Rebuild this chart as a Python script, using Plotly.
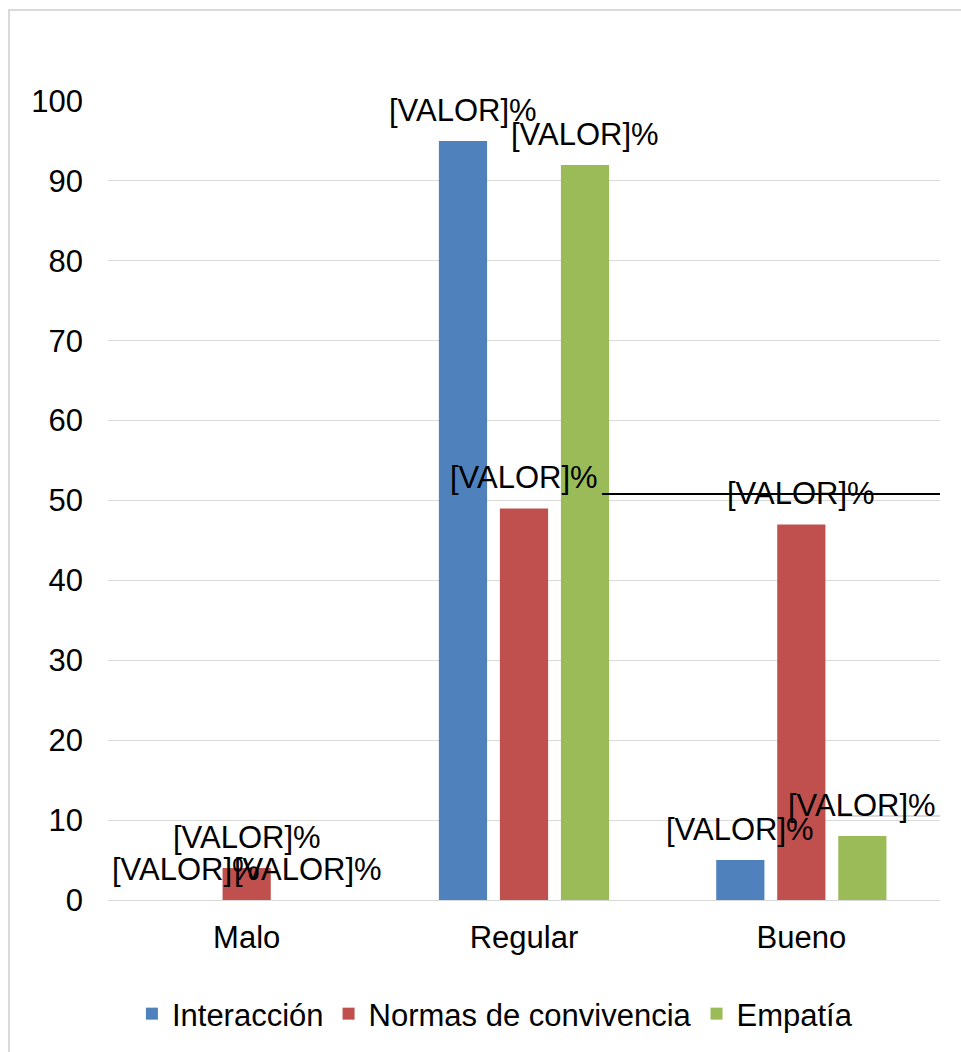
import plotly.graph_objects as go

categories = ["Malo", "Regular", "Bueno"]
series_names = ["Interacción", "Normas de convivencia", "Empatía"]
interaccion = [0, 95, 5]
normas = [4, 49, 47]
empatia = [0, 92, 8]
label_text = "[VALOR]%"
y_ticks = [0, 10, 20, 30, 40, 50, 60, 70, 80, 90, 100]

colors = ["#4F81BD", "#C0504D", "#9BBB59"]
values = [interaccion, normas, empatia]

W, H = 961, 1052
M = dict(l=108, r=21, t=101, b=152)
BARGAP = 0.34
GROUPGAP = 0.21
FONT = "Liberation Sans, Arial, sans-serif"
FS = 31

fig = go.Figure()
for name, vals, col in zip(series_names, values, colors):
    fig.add_trace(go.Bar(x=categories, y=vals, name=name, marker_color=col,
                         marker_line_width=0))

# data labels above each bar, shifted to the bar's slot within its group
plot_w = W - M["l"] - M["r"]
plot_h = H - M["t"] - M["b"]
slot = plot_w / len(categories) * (1 - BARGAP) / len(series_names)
annotations = []
for i, vals in enumerate(values):
    for cat, v in zip(categories, vals):
        annotations.append(dict(
            x=cat, y=v, xref="x", yref="y", text=label_text, showarrow=False,
            xanchor="center", yanchor="bottom", xshift=(i - 1) * slot, yshift=11,
            font=dict(family=FONT, size=FS, color="#000000")))

shapes = [
    # outer chart frame (right and bottom edges run past the page)
    dict(type="rect", xref="paper", yref="paper",
         x0=(9 - M["l"]) / plot_w, x1=(975 - M["l"]) / plot_w,
         y0=-(1070 - (H - M["b"])) / plot_h,
         y1=(H - M["b"] - 10) / plot_h,
         line=dict(color="#D9D9D9", width=2), fillcolor="rgba(0,0,0,0)", layer="below"),
    dict(type="line", xref="paper", yref="y", x0=(602 - M["l"]) / plot_w, x1=1,
         y0=50.8, y1=50.8, line=dict(color="#000000", width=2)),
    dict(type="line", xref="paper", yref="y", x0=(838 - M["l"]) / plot_w, x1=1,
         y0=10.5, y1=10.5, line=dict(color="#D9D9D9", width=2)),
]

fig.update_layout(
    width=W, height=H, margin=M,
    paper_bgcolor="white", plot_bgcolor="white",
    barmode="group", bargap=BARGAP, bargroupgap=GROUPGAP,
    font=dict(family=FONT, size=FS, color="#000000"),
    annotations=annotations, shapes=shapes,
    legend=dict(orientation="h", x=0.515, xanchor="center",
                xref="container", yref="container",
                y=1 - 987 / H, yanchor="top", bgcolor="rgba(0,0,0,0)",
                font=dict(family=FONT, size=FS, color="#000000")),
    showlegend=True,
)
fig.update_yaxes(range=[0, 100], tickvals=y_ticks, showgrid=True, gridcolor="#D9D9D9",
                 gridwidth=1, zeroline=False, showline=False, ticks="",
                 ticklabelstandoff=24, tickfont=dict(family=FONT, size=FS, color="#000000"))
fig.update_xaxes(showline=True, linecolor="#D9D9D9", linewidth=1, ticks="",
                 ticklabelstandoff=10, tickfont=dict(family=FONT, size=FS, color="#000000"))

fig.write_html("out.html")
